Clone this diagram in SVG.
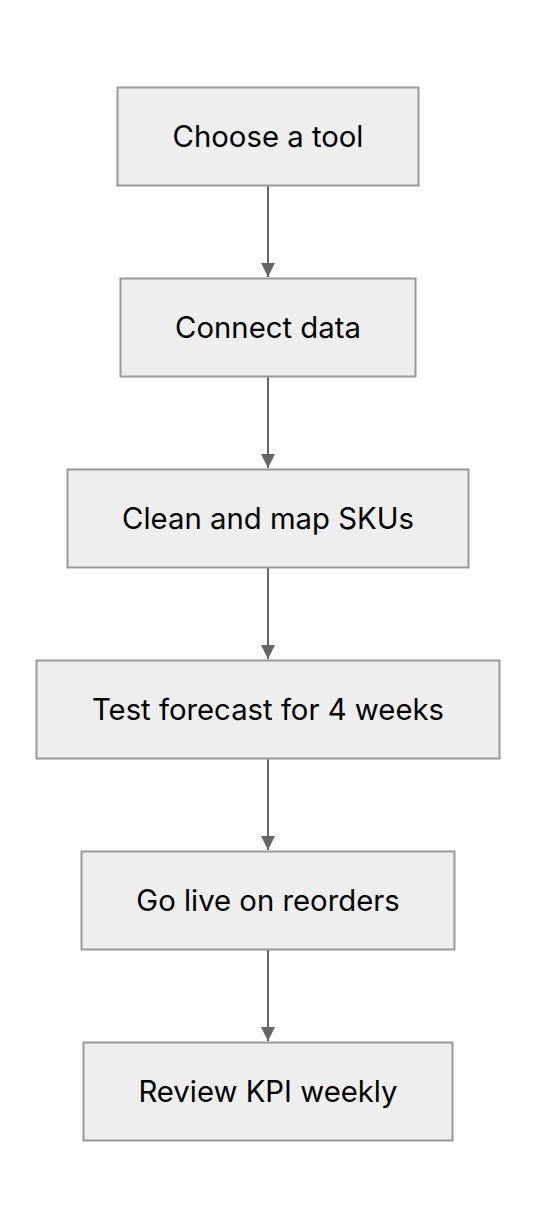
<svg xmlns="http://www.w3.org/2000/svg" width="536" height="1228" viewBox="0 0 536 1228">
<style>
.box{fill:#eeeeee;stroke:#999999;stroke-width:2}
.lbl{font-family:Inter,"Noto Sans","DejaVu Sans",sans-serif;font-size:29.3px;fill:#000;text-anchor:middle;dominant-baseline:central}
.edge{stroke:#666666;stroke-width:2;fill:none}
</style>
<defs>
<marker id="arr" viewBox="0 0 10 10" refX="10" refY="5" markerWidth="7" markerHeight="7" markerUnits="strokeWidth" orient="auto">
<path d="M0,0 L10,5 L0,10 z" fill="#666666"/>
</marker>
</defs>
<rect width="536" height="1228" fill="#ffffff"/>
<g id="connectors">
<line class="edge" x1="268" y1="186" x2="268" y2="277" marker-end="url(#arr)"/>
<line class="edge" x1="268" y1="377" x2="268" y2="468" marker-end="url(#arr)"/>
<line class="edge" x1="268" y1="568" x2="268" y2="659" marker-end="url(#arr)"/>
<line class="edge" x1="268" y1="759" x2="268" y2="850" marker-end="url(#arr)"/>
<line class="edge" x1="268" y1="950" x2="268" y2="1041" marker-end="url(#arr)"/>
</g>
<g id="n1"><rect class="box" x="117.5" y="87.5" width="301" height="98"/><text class="lbl" x="268" y="136">Choose a tool</text></g>
<g id="n2"><rect class="box" x="120.5" y="278.5" width="295" height="98"/><text class="lbl" x="268" y="327">Connect data</text></g>
<g id="n3"><rect class="box" x="67.5" y="469.5" width="401" height="98"/><text class="lbl" x="268" y="518">Clean and map SKUs</text></g>
<g id="n4"><rect class="box" x="36.5" y="660.5" width="463" height="98"/><text class="lbl" x="268" y="709">Test forecast for 4 weeks</text></g>
<g id="n5"><rect class="box" x="81.5" y="851.5" width="373" height="98"/><text class="lbl" x="268" y="900">Go live on reorders</text></g>
<g id="n6"><rect class="box" x="83.5" y="1042.5" width="369" height="98"/><text class="lbl" x="268" y="1091">Review KPI weekly</text></g>
</svg>
